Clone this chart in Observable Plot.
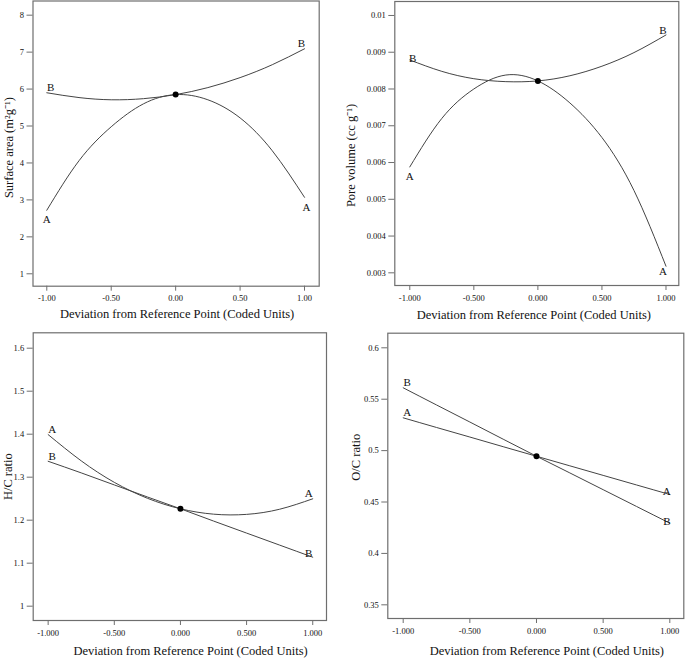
<!DOCTYPE html>
<html><head><meta charset="utf-8">
<script src="https://cdn.jsdelivr.net/npm/d3@7"></script>
<script src="https://cdn.jsdelivr.net/npm/@observablehq/plot@0.6"></script>
<style>
body{margin:0;background:#fff;}
#wrap{position:relative;width:685px;height:658px;overflow:hidden;background:#fff;}
#wrap > svg{position:absolute;}
</style></head><body><div id="wrap"></div>
<script>
// Coded deviation from reference point
const xCoded = [-1, -0.75, -0.5, -0.25, 0, 0.25, 0.5, 0.75, 1];

// Surface area (m2 g-1)
const surfaceA = [2.72, 4.06, 4.98, 5.60, 5.85, 5.71, 5.22, 4.33, 3.07];
const surfaceB = [5.90, 5.77, 5.71, 5.74, 5.85, 6.04, 6.31, 6.66, 7.09];
const surfaceRef = 5.85;

// Pore volume (cc g-1)
const poreA = [0.00588, 0.00720, 0.00800, 0.00838, 0.00822, 0.00762, 0.00668, 0.00524, 0.00318];
const poreB = [0.00879, 0.00848, 0.00828, 0.00820, 0.00822, 0.00836, 0.00862, 0.00899, 0.00947];
const poreRef = 0.00822;

// H/C ratio
const hcA = [1.399, 1.338, 1.288, 1.251, 1.2265, 1.214, 1.2135, 1.2255, 1.2497];
const hcB = [1.337, 1.310, 1.282, 1.254, 1.2265, 1.198, 1.170, 1.142, 1.114];
const hcRef = 1.2265;

// O/C ratio
const ocA = [0.5319, 0.5225, 0.5132, 0.5038, 0.4945, 0.4852, 0.4759, 0.4666, 0.4573];
const ocB = [0.5611, 0.5444, 0.5278, 0.5111, 0.4945, 0.4783, 0.4620, 0.4457, 0.4294];
const ocRef = 0.4945;

// Tick values and labels
const xTicks = [-1, -0.5, 0, 0.5, 1];
const xLabels2 = ["-1.00", "-0.50", "0.00", "0.50", "1.00"];
const xLabels3 = ["-1.000", "-0.500", "0.000", "0.500", "1.000"];
const surfaceTicks = [1, 2, 3, 4, 5, 6, 7, 8];
const surfaceTickLabels = ["1", "2", "3", "4", "5", "6", "7", "8"];
const poreTicks = [0.003, 0.004, 0.005, 0.006, 0.007, 0.008, 0.009, 0.01];
const poreTickLabels = ["0.003", "0.004", "0.005", "0.006", "0.007", "0.008", "0.009", "0.01"];
const hcTicks = [1, 1.1, 1.2, 1.3, 1.4, 1.5, 1.6];
const hcTickLabels = ["1", "1.1", "1.2", "1.3", "1.4", "1.5", "1.6"];
const ocTicks = [0.35, 0.4, 0.45, 0.5, 0.55, 0.6];
const ocTickLabels = ["0.35", "0.4", "0.45", "0.5", "0.55", "0.6"];

const xTitle = "Deviation from Reference Point (Coded Units)";

const FONT = "'Liberation Serif', 'Times New Roman', serif";
const INK = "#444";
const FRAME = "#6e6e6e";

function panel(cfg) {
  const n = xCoded.length;
  const rowsA = xCoded.map((x, i) => ({x, y: cfg.A[i]}));
  const rowsB = xCoded.map((x, i) => ({x, y: cfg.B[i]}));
  const ends = {
    A0: {t: "A", x: xCoded[0], y: cfg.A[0]},
    A1: {t: "A", x: xCoded[n - 1], y: cfg.A[n - 1]},
    B0: {t: "B", x: xCoded[0], y: cfg.B[0]},
    B1: {t: "B", x: xCoded[n - 1], y: cfg.B[n - 1]}
  };
  const chart = Plot.plot({
    width: cfg.width, height: cfg.height,
    marginLeft: cfg.m[0], marginRight: cfg.m[1], marginTop: cfg.m[2], marginBottom: cfg.m[3],
    style: {fontFamily: FONT, background: "white", overflow: "visible", color: "#111"},
    x: {domain: cfg.xDomain},
    y: {domain: cfg.yDomain},
    marks: [
      Plot.frame({stroke: FRAME, strokeWidth: 1.2}),
      Plot.axisX({ticks: xTicks, tickFormat: d => cfg.xLabels[xTicks.indexOf(d)], tickSize: 5, tickPadding: 4,
        fontSize: 8.5, label: null, stroke: FRAME}),
      Plot.axisY({ticks: cfg.yTicks, tickFormat: d => cfg.yLabels[cfg.yTicks.indexOf(d)], tickSize: 6, tickPadding: 3,
        fontSize: 8.5, label: null, stroke: FRAME}),
      Plot.line(rowsA, {x: "x", y: "y", curve: "natural", stroke: INK, strokeWidth: 1}),
      Plot.line(rowsB, {x: "x", y: "y", curve: "natural", stroke: INK, strokeWidth: 1}),
      Plot.dot([{x: 0, y: cfg.ref}], {x: "x", y: "y", r: 3, fill: "#000", stroke: "none"}),
      ...Object.keys(ends).map(k => Plot.text([ends[k]], {x: "x", y: "y", text: "t",
        dx: cfg.off[k][0], dy: cfg.off[k][1], fontSize: 11, fill: "#111"})),
      Plot.text([xTitle], {frameAnchor: "bottom", text: d => d, textAnchor: "middle", lineAnchor: "middle",
        dx: cfg.xt[0], dy: cfg.xt[1], fontSize: 12.5, fill: "#111"}),
      Plot.text([cfg.yTitle], {frameAnchor: "left", text: d => d, rotate: -90, textAnchor: "middle", lineAnchor: "middle",
        dx: cfg.yt[0], dy: cfg.yt[1], fontSize: 12.5, fill: "#111"})
    ]
  });
  chart.style.left = cfg.left + "px";
  chart.style.top = cfg.top + "px";
  document.getElementById("wrap").appendChild(chart);
}

panel({
  left: 0, top: 0, width: 340, height: 330, m: [32.5, 21.3, 0.5, 44.3],
  xDomain: [-1.107, 1.114], yDomain: [0.664, 8.384],
  xLabels: xLabels2, yTicks: surfaceTicks, yLabels: surfaceTickLabels,
  A: surfaceA, B: surfaceB, ref: surfaceRef,
  off: {A0: [0, 9], A1: [2, 10], B0: [4, -5], B1: [-3, -5]},
  xt: [1, 27.6], yt: [-24.2, 4], yTitle: "Surface area (m²g⁻¹)"
});
panel({
  left: 340, top: 0, width: 345, height: 330, m: [54.3, 6.7, 1, 45],
  xDomain: [-1.117, 1.10], yDomain: [0.002655, 0.01038],
  xLabels: xLabels3, yTicks: poreTicks, yLabels: poreTickLabels,
  A: poreA, B: poreB, ref: poreRef,
  off: {A0: [0, 10], A1: [-3, 5], B0: [3, -1], B1: [-3, -4]},
  xt: [-3, 29], yt: [-44.3, 12], yTitle: "Pore volume (cc g⁻¹)"
});
panel({
  left: 0, top: 330, width: 340, height: 328, m: [32.7, 14, 2.3, 38],
  xDomain: [-1.113, 1.104], yDomain: [0.9667, 1.6358],
  xLabels: xLabels3, yTicks: hcTicks, yLabels: hcTickLabels,
  A: hcA, B: hcB, ref: hcRef,
  off: {A0: [4, -5], A1: [-4, -5], B0: [4, -5], B1: [-4, -4]},
  xt: [10.7, 30.5], yt: [-25.5, 0], yTitle: "H/C ratio"
});
panel({
  left: 340, top: 330, width: 345, height: 328, m: [47.3, 1.7, 2.7, 40],
  xDomain: [-1.1155, 1.105], yDomain: [0.3367, 0.6142],
  xLabels: xLabels3, yTicks: ocTicks, yLabels: ocTickLabels,
  A: ocA, B: ocB, ref: ocRef,
  off: {A0: [4, -5], A1: [-3, -3], B0: [4, -5], B1: [-3, -2]},
  xt: [11, 32], yt: [-32.3, -18.6], yTitle: "O/C ratio"
});
</script>
</body></html>
